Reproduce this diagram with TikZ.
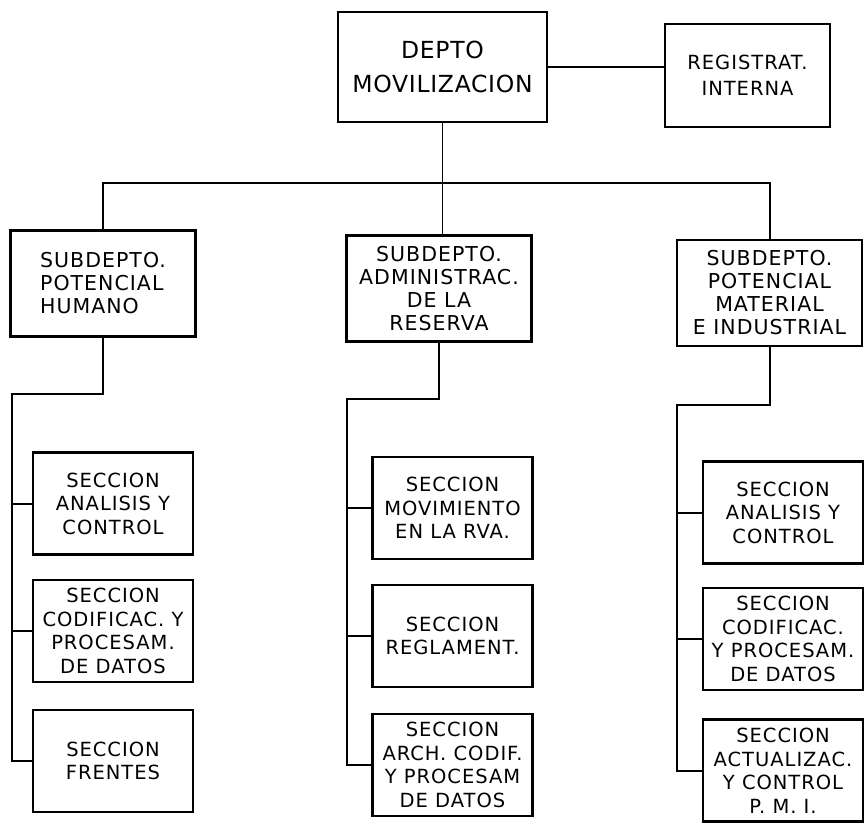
\documentclass[tikz,border=0pt]{standalone}
\usepackage{fontspec}
\setmainfont{DejaVu Sans}[LetterSpace=5]
\newfontfamily\headfamily{DejaVu Sans}[LetterSpace=3]
\usepackage{tikz}
\usetikzlibrary{positioning, calc}

\begin{document}
\begin{tikzpicture}[
  x=1pt, y=-1pt,
  line width=2pt,
  unit/.style={draw, line width=2.5pt, align=center, inner sep=0pt},
  headbox/.style={unit, font=\headfamily\fontsize{23.5}{34}\selectfont,
                  minimum width=209pt, minimum height=110pt},
  regbox/.style={unit, font=\fontsize{19.5}{26}\selectfont,
                 minimum width=165pt, minimum height=103pt},
  subbox/.style={unit, font=\fontsize{20.5}{23}\selectfont,
                 minimum width=185pt, minimum height=106pt},
  secbox/.style={unit, font=\fontsize{19.5}{23.5}\selectfont,
                 minimum width=160pt, minimum height=102pt},
]
  \useasboundingbox (0,0) rectangle (866,823);

  % Top level
  \node[headbox] (dep) at (442.5,67) {DEPTO\\MOVILIZACION};
  \node[regbox] (reg) at (747.5,75.5) {REGISTRAT.\\INTERNA};
  \draw (dep.east) -- (dep.east -| reg.west);

  % Subdepartments
  \node[subbox, align=left] (sh) at (103,283.5) {SUBDEPTO.\\POTENCIAL\\HUMANO};
  \node[subbox] (sa) at (439,288.5) {SUBDEPTO.\\ADMINISTRAC.\\DE LA\\RESERVA};
  \node[subbox] (sm) at (769.5,293) {SUBDEPTO.\\POTENCIAL\\MATERIAL\\E INDUSTRIAL};

  \coordinate (bus) at (0,183);
  \draw (sh.north) -- (sh.north |- bus) -- (sm.north |- bus) -- (sm.north);
  \draw[line width=1.2pt] (dep.south) -- (dep.south |- sa.north);

  % Sections, Potencial Humano
  \node[secbox] (l1) at (113,503.5) {SECCION\\ANALISIS Y\\CONTROL};
  \node[secbox] (l2) at (113,631) {SECCION\\CODIFICAC. Y\\PROCESAM.\\DE DATOS};
  \node[secbox] (l3) at (113,761) {SECCION\\FRENTES};
  \coordinate (jh) at (12,394);
  \draw (sh.south) -- (sh.south |- jh) -- (jh) -- (jh |- l3.west) -- (l3.west);
  \draw (l1.west) -- (l1.west -| jh);
  \draw (l2.west) -- (l2.west -| jh);

  % Sections, Administrac. de la Reserva
  \node[secbox] (m1) at (452.5,508) {SECCION\\MOVIMIENTO\\EN LA RVA.};
  \node[secbox] (m2) at (452.5,636) {SECCION\\REGLAMENT.};
  \node[secbox] (m3) at (452.5,765) {SECCION\\ARCH. CODIF.\\Y PROCESAM\\DE DATOS};
  \coordinate (jm) at (347,399);
  \draw (sa.south) -- (sa.south |- jm) -- (jm) -- (jm |- m3.west) -- (m3.west);
  \draw (m1.west) -- (m1.west -| jm);
  \draw (m2.west) -- (m2.west -| jm);

  % Sections, Potencial Material e Industrial
  \node[secbox] (r1) at (783,512.5) {SECCION\\ANALISIS Y\\CONTROL};
  \node[secbox] (r2) at (783,639) {SECCION\\CODIFICAC.\\Y PROCESAM.\\DE DATOS};
  \node[secbox] (r3) at (783,770.5) {SECCION\\ACTUALIZAC.\\Y CONTROL\\P. M. I.};
  \coordinate (jr) at (677,405);
  \draw (sm.south) -- (sm.south |- jr) -- (jr) -- (jr |- r3.west) -- (r3.west);
  \draw (r1.west) -- (r1.west -| jr);
  \draw (r2.west) -- (r2.west -| jr);
\end{tikzpicture}
\end{document}
